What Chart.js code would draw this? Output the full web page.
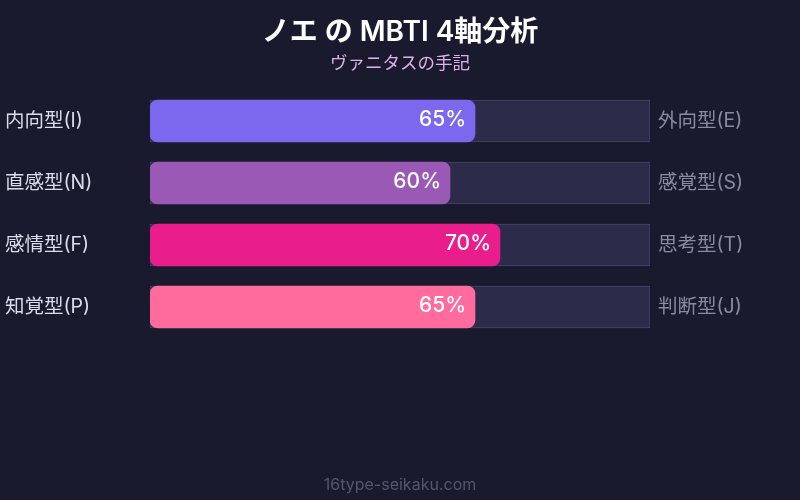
<!DOCTYPE html>
<html><head><meta charset="utf-8">
<script src="https://cdn.jsdelivr.net/npm/chart.js@4"></script>
<style>html,body{margin:0;padding:0;background:#1a1a2e;}#wrap{width:800px;height:500px;}</style>
</head><body><div id="wrap"><canvas id="c" width="800" height="500"></canvas></div>
<script>
const leftLabels = ['内向型(I)', '直感型(N)', '感情型(F)', '知覚型(P)'];
const rightLabels = ['外向型(E)', '感覚型(S)', '思考型(T)', '判断型(J)'];
const values = [65, 60, 70, 65];
const trackValues = [100, 100, 100, 100];
const barColors = ['#7b68ee', '#9b59b6', '#e91e8c', '#ff6b9d'];
const titleText = 'ノエ の MBTI 4軸分析';
const subtitleText = 'ヴァニタスの手記';
const footerText = '16type-seikaku.com';

const FONT = "Inter, 'Noto Sans CJK JP', sans-serif";

const textPlugin = {
  id: 'texts',
  beforeDraw(chart) {
    const ctx = chart.ctx;
    ctx.save();
    ctx.fillStyle = '#1a1a2e';
    ctx.fillRect(0, 0, chart.width, chart.height);
    ctx.restore();
  },
  afterDraw(chart) {
    const ctx = chart.ctx;
    ctx.save();
    ctx.textAlign = 'center';
    ctx.textBaseline = 'middle';
    ctx.fillStyle = '#ffffff';
    ctx.font = "600 28px " + FONT;
    ctx.fillText(titleText, 400, 33);
    ctx.fillStyle = '#e0b0e8';
    ctx.font = "17.5px " + FONT;
    ctx.fillText(subtitleText, 400, 64);
    ctx.fillStyle = '#55556e';
    ctx.font = "16px " + FONT;
    ctx.fillText(footerText, 400, 485);
    // value labels
    const meta = chart.getDatasetMeta(0);
    ctx.textAlign = 'right';
    ctx.fillStyle = '#ffffff';
    ctx.font = "500 21px " + FONT;
    meta.data.forEach((bar, i) => {
      ctx.fillText(values[i] + '%', bar.x - 9, bar.y - 1);
    });
    ctx.restore();
  }
};

new Chart(document.getElementById('c'), {
  type: 'bar',
  data: {
    labels: leftLabels,
    datasets: [
      {
        data: values,
        backgroundColor: barColors,
        borderRadius: 8,
        borderSkipped: false,
        borderWidth: 0,
        grouped: false,
        barThickness: 42
      },
      {
        data: trackValues,
        backgroundColor: '#2c2b4a',
        borderColor: '#45446a',
        borderWidth: 1,
        borderSkipped: false,
        grouped: false,
        barThickness: 42
      }
    ]
  },
  options: {
    indexAxis: 'y',
    responsive: false,
    animation: false,
    devicePixelRatio: 1,
    layout: { padding: { top: 90, bottom: 162, left: 5, right: 0 } },
    plugins: { legend: { display: false }, tooltip: { enabled: false }, title: { display: false } },
    scales: {
      x: { display: false, min: 0, max: 100 },
      y: {
        position: 'left',
        grid: { display: false, drawTicks: false },
        border: { display: false },
        ticks: { color: '#dcdcec', font: { size: 19.5, family: FONT }, crossAlign: 'far', padding: 0 },
        afterFit(s) { s.width = 145; }
      },
      y2: {
        type: 'category',
        labels: rightLabels,
        position: 'right',
        offset: true,
        grid: { display: false, drawTicks: false },
        border: { display: false },
        ticks: { color: '#8a8aa2', font: { size: 19.5, family: FONT }, padding: 8 },
        afterFit(s) { s.width = 150; }
      }
    }
  },
  plugins: [textPlugin]
});
</script></body></html>
